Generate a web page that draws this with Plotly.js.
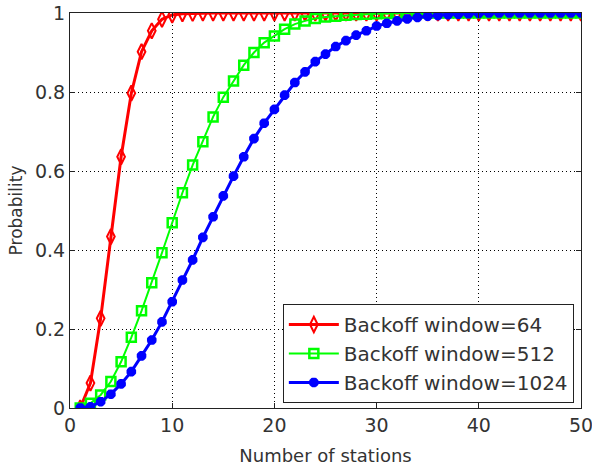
<!DOCTYPE html>
<html>
<head>
<meta charset="utf-8">
<script src="https://cdn.plot.ly/plotly-3.0.1.min.js"></script>
<style>html,body{margin:0;padding:0;background:#fff;}#chart{width:592px;height:472px;}</style>
</head>
<body>
<div id="chart"></div>
<script>
const stations = [1,2,3,4,5,6,7,8,9,10,11,12,13,14,15,16,17,18,19,20,21,22,23,24,25,26,27,28,29,30,31,32,33,34,35,36,37,38,39,40,41,42,43,44,45,46,47,48,49,50];
const backoff64 = [0,0.063,0.227,0.434,0.636,0.797,0.902,0.955,0.984,0.995,0.998,0.999,1,1,1,1,1,1,1,1,1,1,1,1,1,1,1,1,1,1,1,1,1,1,1,1,1,1,1,1,1,1,1,1,1,1,1,1,1,1];
const backoff512 = [0,0.012,0.033,0.067,0.117,0.179,0.246,0.317,0.393,0.469,0.545,0.615,0.674,0.737,0.787,0.828,0.868,0.9,0.925,0.942,0.959,0.972,0.98,0.986,0.99,0.992,0.994,0.996,0.997,0.998,0.999,1,1,1,1,1,1,1,1,1,1,1,1,1,1,1,1,1,1,1];
const backoff1024 = [0,0.003,0.016,0.035,0.061,0.092,0.132,0.172,0.218,0.269,0.324,0.375,0.432,0.484,0.537,0.587,0.636,0.682,0.721,0.756,0.792,0.824,0.851,0.877,0.896,0.915,0.93,0.944,0.955,0.967,0.974,0.98,0.985,0.989,0.992,0.994,0.996,0.997,0.998,0.999,1,1,1,1,1,1,1,1,1,1];
const seriesNames = ['Backoff window=64','Backoff window=512','Backoff window=1024'];
const xTicks = [0,10,20,30,40,50];
const yTicks = [0,0.2,0.4,0.6,0.8,1];
const yTickText = ['0','0.2','0.4','0.6','0.8','1'];

const font = 'DejaVu Sans, sans-serif';
const traces = [
  {x: stations, y: backoff64, name: seriesNames[0], mode: 'lines+markers',
   line: {color: '#ff0000', width: 3},
   marker: {symbol: 'diamond-tall-open', size: 11, color: '#ff0000', line: {color: '#ff0000', width: 2}}},
  {x: stations, y: backoff512, name: seriesNames[1], mode: 'lines+markers',
   line: {color: '#00ff00', width: 2},
   marker: {symbol: 'square-open', size: 9, color: '#00ff00', line: {color: '#00ff00', width: 2.5}}},
  {x: stations, y: backoff1024, name: seriesNames[2], mode: 'lines+markers',
   line: {color: '#0000ff', width: 3},
   marker: {symbol: 'asterisk-open', size: 8, color: '#0000ff', line: {color: '#0000ff', width: 3.5}}}
];

const axisCommon = {
  showline: true, linecolor: '#222', linewidth: 1, mirror: 'ticks',
  ticks: 'inside', ticklen: 5, tickcolor: '#222', tickwidth: 1,
  showgrid: true, gridcolor: '#000', griddash: '1px,3px', gridwidth: 1,
  zeroline: false, ticklabeloverflow: 'allow',
  tickfont: {family: font, size: 19, color: '#333'}
};

const layout = {
  width: 592, height: 472,
  margin: {l: 70, r: 11, t: 13, b: 64},
  paper_bgcolor: '#fff', plot_bgcolor: '#fff',
  showlegend: true,
  xaxis: Object.assign({}, axisCommon, {
    range: [0, 50], tickvals: xTicks, ticktext: xTicks.map(String),
    title: {text: 'Number of stations', font: {family: font, size: 18, color: '#333'}, standoff: 14}
  }),
  yaxis: Object.assign({}, axisCommon, {
    range: [0, 1], tickvals: yTicks, ticktext: yTickText,
    title: {text: 'Probability', font: {family: font, size: 17, color: '#333'}, standoff: 8}
  }),
  legend: {
    x: 0.986, y: 0.0127, xanchor: 'right', yanchor: 'bottom',
    bgcolor: '#fff', bordercolor: '#222', borderwidth: 1,
    font: {family: font, size: 20, color: '#333'},
    itemwidth: 50,
    tracegroupgap: 0
  }
};

Plotly.newPlot('chart', traces, layout, {staticPlot: true, displayModeBar: false});
</script>
</body>
</html>
